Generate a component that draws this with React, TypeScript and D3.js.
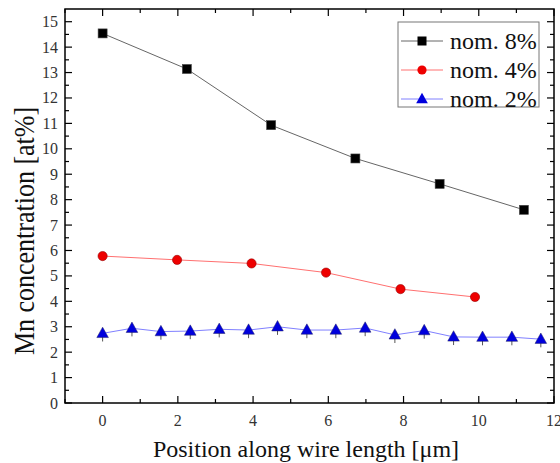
import React from "react";
import * as d3 from "d3";

const xTicks = [0, 2, 4, 6, 8, 10, 12];
const yTicks = [0, 1, 2, 3, 4, 5, 6, 7, 8, 9, 10, 11, 12, 13, 14, 15];

const x8 = [0, 2.24, 4.48, 6.72, 8.96, 11.2];
const y8 = [14.54, 13.14, 10.93, 9.62, 8.62, 7.6];

const x4 = [0, 1.98, 3.96, 5.94, 7.92, 9.9];
const y4 = [5.78, 5.63, 5.49, 5.13, 4.48, 4.17];

const x2 = [0, 0.78, 1.55, 2.33, 3.1, 3.88, 4.65, 5.43, 6.2, 6.98, 7.77, 8.55, 9.33, 10.1, 10.88, 11.65];
const y2 = [2.74, 2.94, 2.81, 2.83, 2.9, 2.87, 3.0, 2.87, 2.87, 2.95, 2.68, 2.85, 2.6, 2.59, 2.59, 2.51];
const e2 = [0.12, 0.12, 0.12, 0.12, 0.12, 0.12, 0.12, 0.12, 0.12, 0.12, 0.12, 0.12, 0.12, 0.12, 0.12, 0.12];

const legendLabels = ["nom. 8%", "nom. 4%", "nom. 2%"];

const L = 65, R = 554, T = 9, B = 403;
const FONT = "'Liberation Serif', 'Times New Roman', serif";

export default function App() {
  const x = d3.scaleLinear().domain([-1, 12]).range([L, R]);
  const y = d3.scaleLinear().domain([0, 15.5]).range([B, T]);
  const line = (xs: number[], ys: number[]) =>
    d3.line<number>().x((_, i) => x(xs[i])).y((d) => y(d))(ys) || "";

  const xMinor = d3.range(-1, 12.01, 1).filter((v) => v % 2 !== 0);
  const yMinor = d3.range(0.5, 15.5, 1);

  const tri = (cx: number, cy: number, s: number) =>
    `M${cx},${cy - s * 0.62} L${cx + s * 0.58},${cy + s * 0.42} L${cx - s * 0.58},${cy + s * 0.42} Z`;

  const legY = [41, 70, 99];

  return (
    <svg width={560} height={463} style={{ position: "absolute", left: 0, top: 0, background: "#fff" }} fontFamily={FONT}>
      <rect x={0} y={0} width={560} height={463} fill="#fff" />
      {/* ticks */}
      <g stroke="#000" strokeWidth={1.2}>
        {xTicks.map((t) => (
          <g key={"xt" + t}>
            <line x1={x(t)} x2={x(t)} y1={B} y2={B - 7} />
            <line x1={x(t)} x2={x(t)} y1={T} y2={T + 7} />
          </g>
        ))}
        {xMinor.map((t) => (
          <g key={"xm" + t}>
            <line x1={x(t)} x2={x(t)} y1={B} y2={B - 4} />
            <line x1={x(t)} x2={x(t)} y1={T} y2={T + 4} />
          </g>
        ))}
        {yTicks.map((t) => (
          <g key={"yt" + t}>
            <line x1={L} x2={L + 7} y1={y(t)} y2={y(t)} />
            <line x1={R} x2={R - 7} y1={y(t)} y2={y(t)} />
          </g>
        ))}
        {yMinor.map((t) => (
          <g key={"ym" + t}>
            <line x1={L} x2={L + 4} y1={y(t)} y2={y(t)} />
            <line x1={R} x2={R - 4} y1={y(t)} y2={y(t)} />
          </g>
        ))}
      </g>
      <rect x={L} y={T} width={R - L} height={B - T} fill="none" stroke="#000" strokeWidth={1.5} />
      {/* tick labels */}
      <g fontSize={16} fill="#333">
        {xTicks.map((t) => (
          <text key={"xl" + t} x={x(t)} y={426} textAnchor="middle">{t}</text>
        ))}
        {yTicks.map((t) => (
          <text key={"yl" + t} x={58} y={y(t) + 5.5} textAnchor="end">{t}</text>
        ))}
      </g>
      {/* axis titles */}
      <text x={306} y={457} textAnchor="middle" fontSize={24} fill="#111">Position along wire length [μm]</text>
      <text transform="translate(34,231) rotate(-90) scale(1,1.15)" textAnchor="middle" fontSize={26} fill="#111">Mn concentration [at%]</text>
      {/* series lines */}
      <path d={line(x8, y8)} fill="none" stroke="#666" strokeWidth={1} />
      <path d={line(x4, y4)} fill="none" stroke="#ff7070" strokeWidth={1} />
      <path d={line(x2, y2)} fill="none" stroke="#8080ff" strokeWidth={1} />
      {/* error bars */}
      {x2.map((v, i) => (
        <line key={"e" + i} x1={x(v)} x2={x(v)} y1={y(y2[i] - e2[i] - 0.2)} y2={y(y2[i] + e2[i])} stroke="#555" strokeWidth={1} />
      ))}
      {/* markers */}
      {x8.map((v, i) => (
        <rect key={"s" + i} x={x(v) - 4.5} y={y(y8[i]) - 4.5} width={9} height={9} fill="#000" stroke="#444" strokeWidth={0.6} />
      ))}
      {x4.map((v, i) => (
        <circle key={"c" + i} cx={x(v)} cy={y(y4[i])} r={4.6} fill="#ee0000" stroke="#900" strokeWidth={0.6} />
      ))}
      {x2.map((v, i) => (
        <path key={"t" + i} d={tri(x(v), y(y2[i]), 10)} fill="#0000dd" stroke="#226" strokeWidth={0.5} />
      ))}
      {/* legend */}
      <rect x={398} y={22} width={141} height={85} fill="#fff" stroke="#777" strokeWidth={1} />
      {legendLabels.map((lab, i) => (
        <g key={lab}>
          <line x1={401} x2={443} y1={legY[i]} y2={legY[i]} stroke={["#666", "#ff7070", "#8080ff"][i]} strokeWidth={1} />
          {i === 0 && <rect x={422 - 4.5} y={legY[i] - 4.5} width={9} height={9} fill="#000" />}
          {i === 1 && <circle cx={422} cy={legY[i]} r={4.6} fill="#ee0000" />}
          {i === 2 && <path d={tri(422, legY[i], 10)} fill="#0000dd" />}
          <text x={450} y={legY[i] + 8} fontSize={24} fill="#111">{lab}</text>
        </g>
      ))}
    </svg>
  );
}
